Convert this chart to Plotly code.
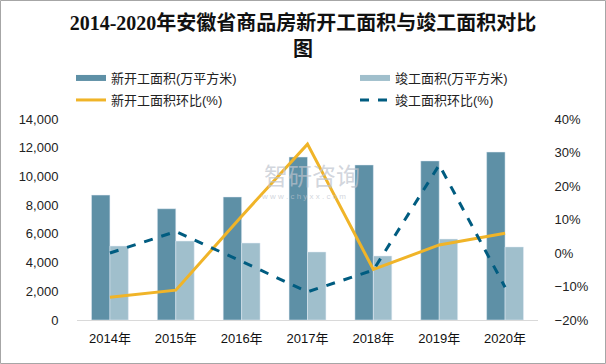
import plotly.graph_objects as go

years = ["2014年", "2015年", "2016年", "2017年", "2018年", "2019年", "2020年"]
new_start = [8700, 7750, 8570, 11350, 10800, 11080, 11700]
completed = [5150, 5500, 5360, 4740, 4460, 5640, 5090]
new_start_ratio = [-13.2, -11.1, 11.0, 32.5, -4.9, 2.4, 5.9]
completed_ratio = [0.0, 6.4, -2.5, -11.6, -5.1, 26.3, -10.2]

C_DARK = "rgb(94,144,166)"
C_LIGHT = "rgb(160,191,204)"
C_ORANGE = "rgb(240,180,40)"
C_BLUE = "rgb(0,92,128)"

W, H = 606, 364
L, R, T, B = 77, 68, 119, 44
PW, PH = W - L - R, H - T - B

fig = go.Figure()
fig.add_trace(go.Bar(x=years, y=new_start, name="新开工面积(万平方米)", marker_color=C_DARK,
                     showlegend=False))
fig.add_trace(go.Bar(x=years, y=completed, name="竣工面积(万平方米)", marker_color=C_LIGHT,
                     showlegend=False))
fig.add_trace(go.Scatter(x=years, y=new_start_ratio, name="新开工面积环比(%)", yaxis="y2",
                         mode="lines", line=dict(color=C_ORANGE, width=3), showlegend=False))
fig.add_trace(go.Scatter(x=years, y=completed_ratio, name="竣工面积环比(%)", yaxis="y2",
                         mode="lines", line=dict(color=C_BLUE, width=3, dash="dash"), showlegend=False))

# legend entries, one legend each
legend_items = [
    ("新开工面积(万平方米)", C_DARK, 6, "solid", "legend", 71, 78),
    ("竣工面积(万平方米)", C_LIGHT, 6, "solid", "legend2", 355, 78),
    ("新开工面积环比(%)", C_ORANGE, 3, "solid", "legend3", 71, 100),
    ("竣工面积环比(%)", C_BLUE, 3, "dash", "legend4", 355, 100),
]
legends = {}
for name, col, wd, dash, lg, lx, ly in legend_items:
    fig.add_trace(go.Scatter(x=[None], y=[None], name=name, mode="lines", legend=lg,
                             line=dict(color=col, width=wd, dash=dash), yaxis="y2"))
    legends[lg] = dict(orientation="h", xref="container", yref="container",
                       x=lx / W, y=1 - ly / H, xanchor="left", yanchor="middle",
                       font=dict(size=13, color="#222"), bgcolor="rgba(0,0,0,0)",
                       itemwidth=30)

fig.update_layout(
    width=W, height=H,
    margin=dict(l=L, r=R, t=T, b=B, autoexpand=False),
    paper_bgcolor="white", plot_bgcolor="white",
    font=dict(family="Liberation Sans, Noto Sans CJK SC, sans-serif", size=12, color="#222"),
    title=dict(text="2014-2020年安徽省商品房新开工面积与竣工面积对比",
               x=0.5, xanchor="center", y=1 - 23 / H, yanchor="middle",
               font=dict(family="Liberation Serif, Noto Sans CJK SC, serif", size=20,
                         color="#111", weight="bold")),
    barmode="group", bargap=0.44, bargroupgap=0,
    xaxis=dict(showline=True, linecolor="#d9d9d9", linewidth=1, ticks="outside", ticklen=6,
               tickcolor="rgba(0,0,0,0)", tickfont=dict(size=13, color="#111"), fixedrange=True),
    yaxis=dict(range=[0, 14000], dtick=2000, tickformat=",", showgrid=False, zeroline=False,
               tickfont=dict(size=13, color="#222"), ticks="outside", ticklen=15,
               tickcolor="rgba(0,0,0,0)"),
    yaxis2=dict(range=[-20, 40], dtick=10, ticksuffix="%", overlaying="y", side="right",
                showgrid=False, zeroline=False, tickfont=dict(size=13, color="#222"),
                ticks="outside", ticklen=13, tickcolor="rgba(0,0,0,0)"),
    showlegend=True,
    **legends,
)

# second title line
fig.add_annotation(text="<b>图</b>", xref="paper", yref="paper",
                   x=(303 - L) / PW, y=1 + (T - 49) / PH, xanchor="center", yanchor="middle",
                   showarrow=False,
                   font=dict(family="Liberation Serif, Noto Sans CJK SC, serif", size=20, color="#111"))

# watermark
fig.add_annotation(text="智研咨询", xref="paper", yref="paper",
                   x=(262 - L) / PW, y=1 - (174 - T) / PH, xanchor="left", yanchor="middle",
                   showarrow=False, font=dict(size=24, color="rgba(190,196,206,0.7)",
                                              family="Noto Sans CJK SC"))
fig.add_annotation(text="w w w . c h y x x . c o m", xref="paper", yref="paper",
                   x=(303 - L) / PW, y=1 - (196 - T) / PH, xanchor="center", yanchor="middle",
                   showarrow=False, font=dict(size=8, color="rgba(190,196,206,0.7)"))

# outer border
fig.add_shape(type="rect", xref="paper", yref="paper",
              x0=(-L + 0.5) / PW, x1=(W - L - 0.5) / PW,
              y0=-(B - 0.5) / PH, y1=1 + (T - 0.5) / PH,
              line=dict(color="#a6a6a6", width=1), fillcolor="rgba(0,0,0,0)", layer="below")

fig.write_html("out.html", config={"displayModeBar": False},
               post_script="document.body.style.margin='0';document.body.style.padding='0';")
